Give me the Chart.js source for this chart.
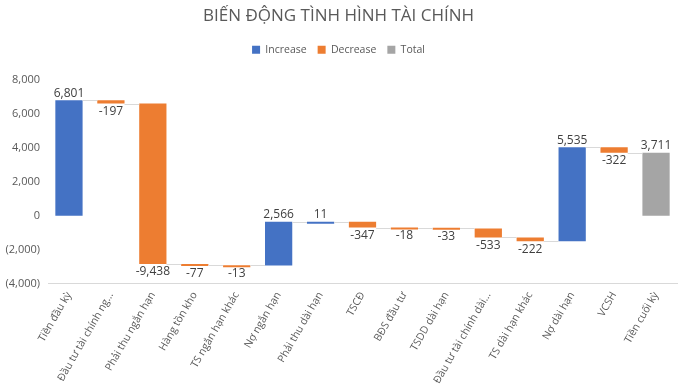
<!DOCTYPE html>
<html>
<head>
<meta charset="utf-8">
<script src="https://cdn.jsdelivr.net/npm/chart.js@4/dist/chart.umd.min.js"></script>
<style>
  html, body { margin: 0; padding: 0; background: #fff; }
  #wrap { width: 689px; height: 392px; }
</style>
</head>
<body>
<div id="wrap"><canvas id="chart" width="689" height="392"></canvas></div>
<script>
// Dữ liệu
const categories = ['Tiền đầu kỳ', 'Đầu tư tài chính ng...', 'Phải thu ngắn hạn', 'Hàng tồn kho', 'TS ngắn hạn khác',
    'Nợ ngắn hạn', 'Phải thu dài hạn', 'TSCĐ', 'BĐS đầu tư', 'TSDD dài hạn', 'Đầu tư tài chính dài...',
    'TS dài hạn khác', 'Nợ dài hạn', 'VCSH', 'Tiền cuối kỳ'];
const changes = [6801, -197, -9438, -77, -13, 2566, 11, -347, -18, -33, -533, -222, 5535, -322];
const totalValue = 3711;
const yTicks = [-4000, -2000, 0, 2000, 4000, 6000, 8000];

const colors = { increase: '#4472C4', decrease: '#ED7D31', total: '#A5A5A5' };

// Tính các đoạn [bắt đầu, kết thúc]
const increaseData = [];
const decreaseData = [];
const totalData = [];
const levels = [];
let running = 0;
changes.forEach(function(v) {
    const start = running;
    running += v;
    levels.push(running);
    if (v >= 0) {
        increaseData.push([start, running]);
        decreaseData.push(null);
    } else {
        increaseData.push(null);
        decreaseData.push([start, running]);
    }
    totalData.push(null);
});
increaseData.push(null);
decreaseData.push(null);
totalData.push([0, totalValue]);
levels.push(totalValue);

const fmt = function(v) {
    const s = Math.abs(v).toLocaleString('en-US');
    return v < 0 ? '(' + s + ')' : s;
};

const waterfallPlugin = {
    id: 'waterfall',
    beforeInit: function(chart) {
        // thêm khoảng trống dưới chú thích
        const fit = chart.legend.fit;
        chart.legend.fit = function() {
            fit.bind(chart.legend)();
            this.height += 15;
        };
    },
    afterDatasetsDraw: function(chart) {
        const ctx = chart.ctx;
        const yScale = chart.scales.y;
        const bars = [];
        categories.forEach(function(c, i) {
            for (let d = 0; d < chart.data.datasets.length; d++) {
                const raw = chart.data.datasets[d].data[i];
                if (raw) {
                    bars.push({ el: chart.getDatasetMeta(d).data[i], d: d, raw: raw });
                    break;
                }
            }
        });
        ctx.save();
        // Đường nối
        ctx.strokeStyle = '#D9D9D9';
        ctx.lineWidth = 1;
        for (let i = 0; i < bars.length - 1; i++) {
            const a = bars[i].el, b = bars[i + 1].el;
            const y = Math.round(yScale.getPixelForValue(levels[i])) + 0.5;
            ctx.beginPath();
            ctx.moveTo(a.x + a.width / 2, y);
            ctx.lineTo(b.x - b.width / 2, y);
            ctx.stroke();
        }
        // Nhãn giá trị
        ctx.font = '12px "Open Sans", sans-serif';
        ctx.fillStyle = '#404040';
        ctx.textAlign = 'center';
        bars.forEach(function(bar, i) {
            const value = i < changes.length ? changes[i] : totalValue;
            const text = value.toLocaleString('en-US');
            const top = yScale.getPixelForValue(Math.max(bar.raw[0], bar.raw[1]));
            const bottom = yScale.getPixelForValue(Math.min(bar.raw[0], bar.raw[1]));
            if (value < 0) {
                ctx.textBaseline = 'top';
                ctx.fillText(text, bar.el.x, bottom + 2);
            } else {
                ctx.textBaseline = 'bottom';
                ctx.fillText(text, bar.el.x, top - 1);
            }
        });
        ctx.restore();
    }
};

const barStyle = { grouped: false, barPercentage: 0.65, categoryPercentage: 1, minBarLength: 2 };

new Chart(document.getElementById('chart').getContext('2d'), {
    type: 'bar',
    data: {
        labels: categories,
        datasets: [
            Object.assign({ label: 'Increase', data: increaseData, backgroundColor: colors.increase }, barStyle),
            Object.assign({ label: 'Decrease', data: decreaseData, backgroundColor: colors.decrease }, barStyle),
            Object.assign({ label: 'Total', data: totalData, backgroundColor: colors.total }, barStyle)
        ]
    },
    options: {
        responsive: false,
        animation: false,
        layout: { padding: { left: 0, right: 12, top: 0, bottom: 0 } },
        plugins: {
            title: {
                display: true,
                text: 'BIẾN ĐỘNG TÌNH HÌNH TÀI CHÍNH',
                color: '#595959',
                font: { family: '"Open Sans", sans-serif', size: 17, weight: 'normal' },
                padding: { top: 6, bottom: 7 }
            },
            legend: {
                display: true,
                labels: {
                    color: '#595959',
                    font: { family: '"Open Sans", sans-serif', size: 10.5 },
                    boxWidth: 8,
                    boxHeight: 8,
                    padding: 11
                }
            },
            tooltip: { enabled: false }
        },
        scales: {
            x: {
                grid: { display: false, drawTicks: false },
                border: { color: '#D9D9D9' },
                afterFit: function(scale) {
                    scale.paddingLeft = 0;
                    scale.paddingRight = 0;
                },
                ticks: {
                    color: '#595959',
                    font: { family: '"Open Sans", sans-serif', size: 10.5 },
                    padding: 6,
                    minRotation: 60,
                    maxRotation: 60,
                    autoSkip: false
                }
            },
            y: {
                min: yTicks[0],
                max: yTicks[yTicks.length - 1],
                grid: { display: false, drawTicks: false },
                border: { display: false },
                afterBuildTicks: function(axis) {
                    axis.ticks = yTicks.map(function(v) { return { value: v }; });
                },
                afterFit: function(axis) {
                    axis.width = 48;
                },
                ticks: {
                    color: '#595959',
                    font: { family: '"Open Sans", sans-serif', size: 11 },
                    padding: 8,
                    callback: function(v) { return fmt(v); }
                }
            }
        }
    },
    plugins: [waterfallPlugin]
});
</script>
</body>
</html>
